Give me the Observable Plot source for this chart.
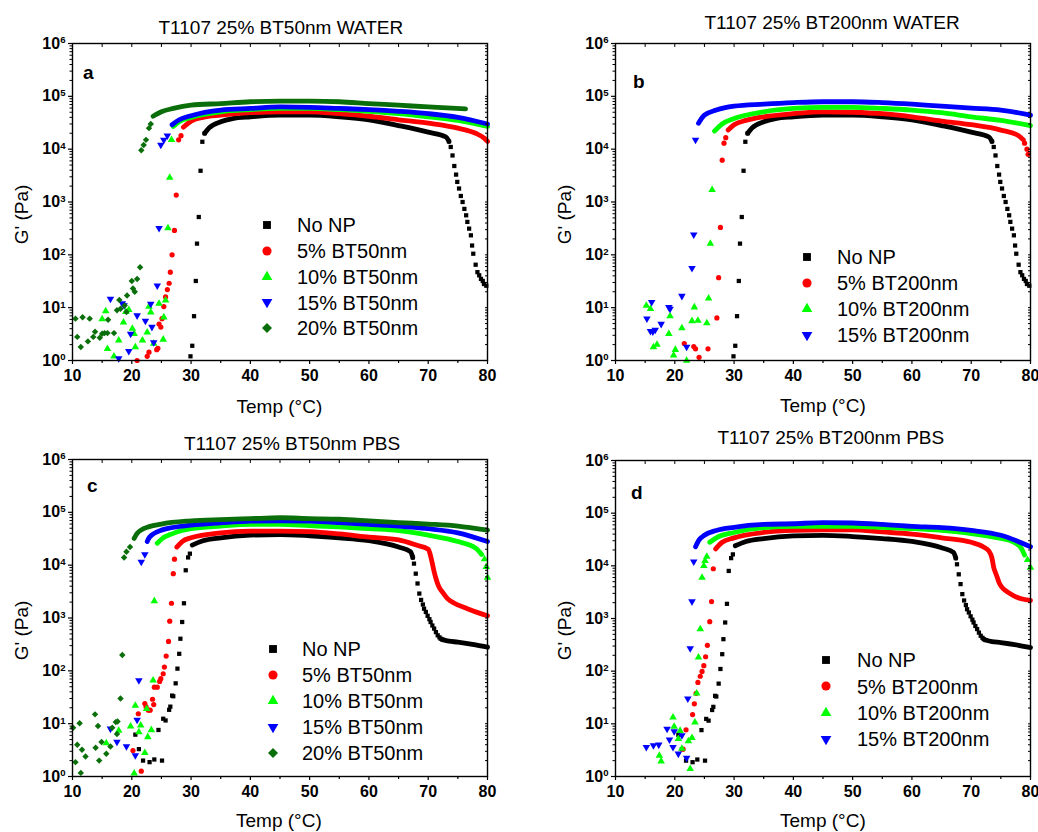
<!DOCTYPE html>
<html><head><meta charset="utf-8">
<script src="https://cdn.jsdelivr.net/npm/d3@7"></script>
<script src="https://cdn.jsdelivr.net/npm/@observablehq/plot@0.6"></script>
<style>
body{margin:0;background:#fff;font-family:"Liberation Sans",Arial,sans-serif;}
#wrap{position:relative;width:1038px;height:832px;overflow:hidden;background:#fff}
.abs{position:absolute;white-space:nowrap;line-height:1;color:#000}
</style></head><body><div id="wrap"></div>
<script>
// ---------------- DATA (T in °C, G' in Pa) ----------------
const xTicks = [10, 20, 30, 40, 50, 60, 70, 80];
const xMinorTicks = [15, 25, 35, 45, 55, 65, 75];
const yExponents = [0, 1, 2, 3, 4, 5, 6];

const panelTitles = ["T1107 25% BT50nm WATER", "T1107 25% BT200nm WATER", "T1107 25% BT50nm PBS", "T1107 25% BT200nm PBS"];
const panelLetters = ["a", "b", "c", "d"];
const labels50 = ["No NP", "5% BT50nm", "10% BT50nm", "15% BT50nm", "20% BT50nm"];
const labels200 = ["No NP", "5% BT200nm", "10% BT200nm", "15% BT200nm"];

// No NP in water (panels a, b)
const noNPWater_pts = [[29.9,1.2],[30.2,1.9],[30.5,6.9],[30.8,32],[31.0,163],[31.3,520],[31.6,3900],[31.9,13800],[32.3,2.0e4],
  [73.5,1.4e4],[73.8,1.1e4],[74.1,7600],[74.4,4800],[74.7,3300],[74.9,2400],[75.2,1800],[75.5,1300],[75.8,1000],[76.1,740],[76.4,560],[76.6,420],[76.9,313],[77.2,234],[77.4,150],[77.6,105],[78.0,65],[78.3,47],[78.6,41],[78.9,35],[79.2,32],[79.4,28],[79.8,26]];
const noNPWater_band = [[32.3,2.0e4],[33,2.5e4],[35,3.3e4],[37,3.8e4],[40,4.1e4],[45,4.4e4],[50,4.4e4],[55,4.1e4],[60,3.6e4],[65,2.8e4],[70,2.1e4],[73,1.7e4],[73.5,1.4e4]];

// panel a
const a5_pts = [[20.9,1.0],[22.6,1.2],[22.9,1.44],[24.2,1.6],[24.4,1.7],[24.6,4.9],[24.9,4.3],[25.1,6.2],[25.4,10.5],[25.7,16],[26.0,22],[26.3,29],[26.5,47],[26.8,100],[27.2,290],[27.5,1350],[27.9,1.5e4],[28.3,1.8e4]];
const a5_band = [[28.7,2.6e4],[30,3.4e4],[32,4.0e4],[35,4.4e4],[40,4.9e4],[45,5.1e4],[50,5.1e4],[55,4.7e4],[60,4.2e4],[65,3.6e4],[70,3.1e4],[75,2.5e4],[78,2.0e4],[79.5,1.6e4],[80,1.4e4]];
const a10_pts = [[15.0,6.1],[15.6,8.6],[15.9,1.66],[17.0,1.2],[17.8,2.4],[18.6,5.3],[19.0,8.3],[19.5,9.1],[20.1,4.0],[20.4,3.2],[20.6,1.8],[21.8,2.4],[22.6,3.4],[22.9,10.5],[23.2,8.2],[23.7,2.1],[24.6,12],[25.3,2.5],[25.4,6.6],[25.7,13.7],[26.1,320],[26.4,2900],[26.7,1.5e4]];
const a10_band = [[27,2.7e4],[28,3.3e4],[30,4.0e4],[35,5.1e4],[40,5.6e4],[45,5.9e4],[50,5.9e4],[55,5.6e4],[60,5.2e4],[65,4.7e4],[70,4.1e4],[75,3.5e4],[80,2.7e4]];
const a15_pts = [[16.4,14.7],[17.8,1.1],[18.4,12],[18.7,11],[19.5,1.5],[19.8,3.2],[20.9,7.1],[22.3,5.6],[23.2,11.8],[23.4,4.3],[23.7,2.2],[24.3,26],[24.6,320],[24.9,1.2e4],[25.4,1.5e4],[26.0,1.8e4]];
const a15_band = [[26.8,2.9e4],[28,3.6e4],[30,4.3e4],[35,5.5e4],[40,5.9e4],[45,6.3e4],[50,6.2e4],[55,5.9e4],[60,5.6e4],[65,5.2e4],[70,4.7e4],[75,4.0e4],[80,3.0e4]];
const a20_pts = [[10.5,6.2],[10.8,2.8],[11.4,1.8],[11.7,6.6],[12.6,2.3],[12.9,6.2],[13.5,2.8],[13.8,3.5],[14.6,2.7],[15.0,3.2],[15.4,3.3],[15.9,3.3],[16.0,5.9],[17.0,3.3],[17.5,8.9],[17.9,14],[18.1,9.5],[18.8,11],[19.1,8.3],[19.2,17],[20.0,32],[20.2,23],[20.5,20],[20.9,35],[21.4,58],[21.6,9500],[22.0,1.2e4],[22.4,1.5e4],[22.9,2.5e4],[23.2,3.0e4]];
const a20_band = [[23.6,4.2e4],[25,5.1e4],[27,5.9e4],[30,6.8e4],[35,7.3e4],[40,7.9e4],[45,8.1e4],[50,8.1e4],[55,7.9e4],[60,7.3e4],[65,6.8e4],[70,6.3e4],[76.3,5.8e4]];

// panel b
const b5_pts = [[21.6,2.1],[23.2,1.84],[23.5,1.66],[24.1,1.15],[25.6,1.66],[27.1,6.4],[27.4,37],[27.7,330],[28.0,6200],[28.3,1.3e4],[28.6,1.65e4],[79.0,1.3e4],[79.4,1.0e4],[79.6,8000]];
const b5_band = [[29.0,2.3e4],[30,2.9e4],[32,3.5e4],[35,4.1e4],[40,4.7e4],[45,5.1e4],[50,5.0e4],[55,4.7e4],[60,4.1e4],[65,3.4e4],[70,2.9e4],[75,2.3e4],[78,1.8e4],[78.8,1.5e4]];
const b10_pts = [[15.2,11],[15.9,9.5],[16.4,1.8],[17.0,2.0],[19.0,3.2],[19.2,6.9],[19.8,1.25],[20.1,1.6],[21.2,4.1],[22.0,1.0],[22.9,5.6],[23.3,10.2],[23.9,5.7],[25.4,5.1],[25.7,15],[26.0,163],[26.3,1700]];
const b10_band = [[26.7,2.2e4],[28,3.0e4],[30,3.8e4],[35,5.1e4],[40,5.9e4],[45,6.2e4],[50,6.2e4],[55,5.9e4],[60,5.5e4],[65,4.9e4],[70,4.1e4],[75,3.5e4],[80,2.8e4]];
const b15_pts = [[15.3,6.2],[15.9,3.6],[16.1,12.7],[16.3,3.5],[16.7,3.8],[17.7,4.9],[19.0,10.2],[19.2,9.5],[21.2,16.6],[22.0,1.8],[22.9,56],[23.2,240],[23.5,1.5e4]];
const b15_band = [[24.0,3.1e4],[25,4.4e4],[27,5.5e4],[30,6.5e4],[35,7.1e4],[40,7.6e4],[45,7.9e4],[50,7.9e4],[55,7.6e4],[60,7.1e4],[65,6.5e4],[70,6.0e4],[75,5.5e4],[80,4.4e4]];

// No NP in PBS (panels c, d)
const noNPPbs_pts = [[20.6,6.2],[21.2,3.3],[21.9,2.0],[23.0,1.87],[23.8,2.1],[25.1,2.0],[24.5,7.6],[25.3,12.4],[25.7,11.5],[26.3,18.3],[26.5,21],[26.8,34],[27.0,33],[27.4,58],[27.7,110],[28.0,210],[28.2,405],[28.5,840],[28.8,1900],[29.1,8000],[29.5,1.4e4],[29.8,1.65e4],
  [67.4,1.4e4],[67.6,1.07e4],[67.9,6900],[68.2,4500],[68.5,2900],[68.8,2200],[69.1,1800],[69.3,1500],[69.6,1300],[69.9,1100],[70.2,950],[70.4,840],[70.7,720],[71.0,630],[71.3,540],[71.6,470],[71.9,430],[72.1,405],[72.4,390]];
const noNPPbs_band = [[30.2,2.4e4],[32,2.9e4],[35,3.3e4],[40,3.7e4],[45,3.8e4],[50,3.6e4],[55,3.3e4],[60,2.9e4],[65,2.2e4],[67,1.8e4],[67.4,1.4e4]];
const noNPPbs_tail = [[72.4,390],[73.5,365],[75,350],[78,310],[80,280]];

// panel c
const c5_pts = [[20.2,3.1],[21.6,1.26],[21.1,15.4],[22.2,24],[22.4,21],[22.8,18],[23.1,18],[23.5,29],[23.7,23],[23.8,49],[24.3,49],[24.7,63],[24.9,71],[25.3,88],[25.5,118],[25.8,190],[26.2,360],[26.4,870],[26.7,1900],[27.0,6900],[27.2,1.3e4]];
const c5_band = [[27.6,2.2e4],[28.5,2.8e4],[30,3.3e4],[35,4.1e4],[40,4.4e4],[45,4.4e4],[50,4.3e4],[55,3.9e4],[60,3.4e4],[65,3.0e4],[68,2.4e4],[70,2.0e4],[70.4,1.5e4],[70.7,1.07e4],[71.0,7500],[71.3,5600],[71.8,3900],[72.4,3100],[73.3,2300],[74.4,1900],[76.6,1500],[78.5,1250],[80,1100]];
const c10_pts = [[15.7,4.3],[17.8,7.4],[19.8,8.9],[20.4,1.15],[20.6,22],[21.2,6.9],[21.5,9.3],[22.2,2.8],[22.5,19],[22.7,5.6],[23.3,7.6],[23.6,66],[23.8,2100],[79.5,1.3e4],[79.8,9300],[80,5800]];
const c10_band = [[24.3,2.6e4],[25,3.1e4],[27,4.0e4],[30,4.9e4],[35,5.5e4],[40,5.9e4],[45,5.9e4],[50,5.6e4],[55,5.3e4],[60,4.9e4],[65,4.5e4],[70,3.7e4],[75,2.8e4],[78,2.1e4],[79,1.6e4]];
const c15_pts = [[16.4,8],[17.5,4.5],[19.1,3.7],[20.6,2.5],[20.9,11.8],[21.2,66],[21.6,1.15e4],[22.2,1.6e4]];
const c15_band = [[22.6,2.8e4],[23,3.4e4],[25,4.6e4],[30,5.7e4],[35,6.3e4],[40,6.8e4],[45,6.9e4],[50,6.8e4],[55,6.4e4],[60,5.9e4],[65,5.5e4],[70,4.9e4],[75,4.1e4],[80,2.8e4]];
const c20_pts = [[10.1,8.4],[10.5,1.87],[10.8,4.0],[11.2,10.2],[11.4,1.17],[11.6,3.2],[12.2,2.4],[13.8,15],[13.9,3.5],[14.3,9],[14.5,2.0],[14.9,4.5],[15.7,2.7],[16.4,3.7],[16.7,8.4],[17.3,10.7],[17.5,6.4],[17.6,11],[18.1,30],[18.4,200],[18.7,1.4e4],[19.1,1.8e4],[19.7,2.2e4]];
const c20_band = [[20.4,3.2e4],[20.9,4.0e4],[22,4.9e4],[25,6.0e4],[30,6.9e4],[35,7.3e4],[40,7.6e4],[45,7.9e4],[50,7.6e4],[55,7.4e4],[60,6.9e4],[65,6.4e4],[70,6.0e4],[75,5.5e4],[80,4.6e4]];

// panel d
const d5_pts = [[21.4,3.3],[21.9,7.7],[23.0,15],[23.3,24],[23.6,38],[23.9,61],[24.3,80],[24.6,99],[24.9,127],[25.2,188],[25.5,310],[25.9,870],[26.2,2100],[26.5,8800]];
const d5_band = [[26.9,2.1e4],[28,2.8e4],[30,3.4e4],[35,4.3e4],[40,4.7e4],[45,4.8e4],[50,4.8e4],[55,4.4e4],[60,4.0e4],[65,3.4e4],[70,2.8e4],[72,2.3e4],[73,1.9e4],[73.5,1.4e4],[73.8,9300],[74.1,7400],[74.4,6000],[74.7,4800],[75.2,3900],[76.1,3200],[77.2,2700],[78.3,2400],[80,2200]];
const d10_pts = [[17.4,2.5],[17.7,1.95],[19.7,13.3],[19.9,8.9],[20.6,5.2],[20.9,7.4],[21.2,3.4],[22.3,4.7],[22.6,1.4],[22.9,5.4],[23.4,10.7],[23.7,38],[24.0,183],[24.3,630],[24.6,6000],[24.9,1.0e4],[25.1,1.25e4],[25.4,1.5e4],[79.5,1.3e4],[80,9300]];
const d10_band = [[25.9,2.8e4],[27,3.4e4],[30,4.3e4],[35,5.3e4],[40,5.6e4],[45,5.6e4],[50,5.6e4],[55,5.4e4],[60,5.1e4],[65,4.7e4],[70,4.1e4],[75,3.3e4],[77,2.9e4],[78.5,2.1e4],[79,1.6e4]];
const d15_pts = [[15.2,3.6],[16.4,3.9],[17.3,4.0],[18.7,8.0],[19.1,5.0],[19.7,3.6],[19.9,7.2],[20.6,2.7],[21.2,6.0],[22.0,2.25],[22.2,30],[22.6,270],[22.9,2100],[23.2,1.2e4]];
const d15_band = [[23.5,2.3e4],[24,3.0e4],[25,3.8e4],[27,4.7e4],[30,5.4e4],[35,6.1e4],[40,6.3e4],[45,6.6e4],[50,6.5e4],[55,6.1e4],[60,5.6e4],[65,5.3e4],[70,4.7e4],[75,3.8e4],[80,2.3e4]];

// ---------------- STYLE ----------------
const sqrt3 = Math.sqrt(3);
const triangleDown = {draw(ctx, size) {
  const y = -Math.sqrt(size / (sqrt3 * 3));
  ctx.moveTo(0, -y * 2); ctx.lineTo(-sqrt3 * y, y); ctx.lineTo(sqrt3 * y, y); ctx.closePath();
}};
const styles = [
  {color: "#000000", symbol: d3.symbolSquare, r: 2.4, lsize: 62},
  {color: "#ff0000", symbol: d3.symbolCircle, r: 2.6, lsize: 66},
  {color: "#00ff00", symbol: d3.symbolTriangle, r: 2.8, lsize: 50},
  {color: "#0000ff", symbol: triangleDown, r: 2.8, lsize: 50},
  {color: "#0a6e0a", symbol: d3.symbolDiamond2, r: 2.9, lsize: 64}
];

const W = 519, H = 416;
const panels = [
  {left: 0, top: 0, m: [43, 32, 56, 72], labels: labels50,
   series: [[noNPWater_pts, [noNPWater_band]], [a5_pts, [a5_band]], [a10_pts, [a10_band]], [a15_pts, [a15_band]], [a20_pts, [a20_band]]],
   title: [281, 27], letter: [83, 79], ylab: [22, 214], xlab: [279.5, 406], legend: [267, 297, 225, 25.8]},
  {left: 519, top: 0, m: [43, 8, 56, 96], labels: labels200,
   series: [[noNPWater_pts, [noNPWater_band]], [b5_pts, [b5_band]], [b10_pts, [b10_band]], [b15_pts, [b15_band]]],
   title: [832, 22], letter: [633, 88], ylab: [565, 214], xlab: [823, 405], legend: [807, 837, 257, 26]},
  {left: 0, top: 416, m: [43, 32, 56, 72], labels: labels50,
   series: [[noNPPbs_pts, [noNPPbs_band, noNPPbs_tail]], [c5_pts, [c5_band]], [c10_pts, [c10_band]], [c15_pts, [c15_band]], [c20_pts, [c20_band]]],
   title: [292, 443], letter: [87, 492], ylab: [22, 630], xlab: [279, 820], legend: [273, 302, 649, 26]},
  {left: 519, top: 416, m: [44, 8, 56, 96], labels: labels200,
   series: [[noNPPbs_pts, [noNPPbs_band, noNPPbs_tail]], [d5_pts, [d5_band]], [d10_pts, [d10_band]], [d15_pts, [d15_band]]],
   title: [831, 437], letter: [631, 499], ylab: [565, 630], xlab: [823, 820], legend: [826, 857, 660, 26.3]}
];

const yMajor = yExponents.map(k => 10 ** k);
const yMinor = d3.range(0, 6).flatMap(k => d3.range(2, 10).map(m => m * 10 ** k));
const wrap = document.getElementById("wrap");
const FONT = "'Liberation Sans', Arial, sans-serif";

function addText(txt, cx, cy, size, opts = {}) {
  const d = document.createElement("div");
  d.className = "abs";
  d.textContent = txt;
  d.style.fontSize = size + "px";
  d.style.fontFamily = FONT;
  if (opts.bold) d.style.fontWeight = "bold";
  wrap.appendChild(d);
  const w = d.offsetWidth;
  if (opts.rotate) {
    d.style.left = (cx - w / 2) + "px";
    d.style.top = (cy - size / 2) + "px";
    d.style.transform = "rotate(-90deg)";
  } else if (opts.left) {
    d.style.left = cx + "px";
    d.style.top = (cy - 0.49 * size) + "px";
  } else if (opts.baseline) {
    d.style.left = cx + "px";
    d.style.top = (cy - 0.845 * size) + "px";
  } else {
    d.style.left = (cx - w / 2) + "px";
    d.style.top = (cy - 0.49 * size) + "px";
  }
  return d;
}

panels.forEach((p, i) => {
  const marks = [];
  p.series.forEach(([pts, bands], j) => {
    const s = styles[j];
    bands.forEach(b => marks.push(Plot.line(b, {x: d => d[0], y: d => d[1], stroke: s.color, strokeWidth: 4.8, curve: "monotone-x", strokeLinecap: "round", strokeLinejoin: "round"})));
    marks.push(Plot.dot(pts, {x: d => d[0], y: d => d[1], fill: s.color, symbol: s.symbol, r: s.r, stroke: "none"}));
  });
  marks.push(
    Plot.axisX({ticks: xTicks, anchor: "bottom", tickSize: 4, tickPadding: 5, fontSize: 16, fontWeight: "bold", label: null, strokeWidth: 1.2}),
    Plot.axisX({ticks: xMinorTicks, anchor: "bottom", tickSize: 3, tickFormat: () => "", label: null, strokeWidth: 1.2}),
    Plot.axisX({ticks: xTicks.concat(xMinorTicks), anchor: "top", tickSize: -3, tickFormat: () => "", label: null, strokeWidth: 1}),
    Plot.axisY({ticks: yMajor, anchor: "left", tickSize: 4, tickPadding: 3, tickFormat: d => "10^" + Math.round(Math.log10(d)), fontSize: 16, fontWeight: "bold", label: null, strokeWidth: 1.2}),
    Plot.axisY({ticks: yMinor, anchor: "left", tickSize: 2.5, tickFormat: () => "", label: null, strokeWidth: 1}),
    Plot.axisY({ticks: yMajor.concat(yMinor), anchor: "right", tickSize: -3, tickFormat: () => "", label: null, strokeWidth: 1}),
    Plot.frame({stroke: "#000", strokeWidth: 1.4})
  );
  const svg = Plot.plot({
    width: W, height: H,
    marginTop: p.m[0], marginRight: p.m[1], marginBottom: p.m[2], marginLeft: p.m[3],
    x: {domain: [10, 80]},
    y: {type: "log", domain: [1, 1e6]},
    style: {fontFamily: FONT, background: "transparent", overflow: "visible", color: "#000"},
    marks
  });
  // superscript exponents on y tick labels
  d3.select(svg).selectAll("text").each(function() {
    const t = this.textContent;
    if (t.includes("^")) {
      const [b, e] = t.split("^");
      const sel = d3.select(this);
      sel.text(null);
      sel.append("tspan").text(b);
      sel.append("tspan").attr("dy", "-0.55em").attr("font-size", "0.6em").text(e);
    }
  });
  const holder = document.createElement("div");
  holder.style.position = "absolute";
  holder.style.left = p.left + "px";
  holder.style.top = p.top + "px";
  holder.appendChild(svg);
  wrap.appendChild(holder);

  addText(panelTitles[i], p.title[0], p.title[1], 19);
  addText(panelLetters[i], p.letter[0], p.letter[1], 19, {bold: true, baseline: true});
  addText("G' (Pa)", p.ylab[0], p.ylab[1], 19, {rotate: true});
  addText("Temp (°C)", p.xlab[0], p.xlab[1], 19);

  // legend
  const [mx, tx, y0, dy] = p.legend;
  p.labels.forEach((lab, j) => {
    const s = styles[j];
    const yy = y0 + j * dy;
    const ns = "http://www.w3.org/2000/svg";
    const sv = document.createElementNS(ns, "svg");
    sv.setAttribute("width", 16); sv.setAttribute("height", 16);
    sv.style.position = "absolute";
    sv.style.left = (mx - 8) + "px"; sv.style.top = (yy - 8) + "px";
    const path = document.createElementNS(ns, "path");
    path.setAttribute("d", d3.symbol(s.symbol, s.lsize)());
    path.setAttribute("transform", "translate(8,8)");
    path.setAttribute("fill", s.color);
    sv.appendChild(path);
    wrap.appendChild(sv);
    addText(lab, tx, yy, 20, {left: true});
  });
});
</script></body></html>
